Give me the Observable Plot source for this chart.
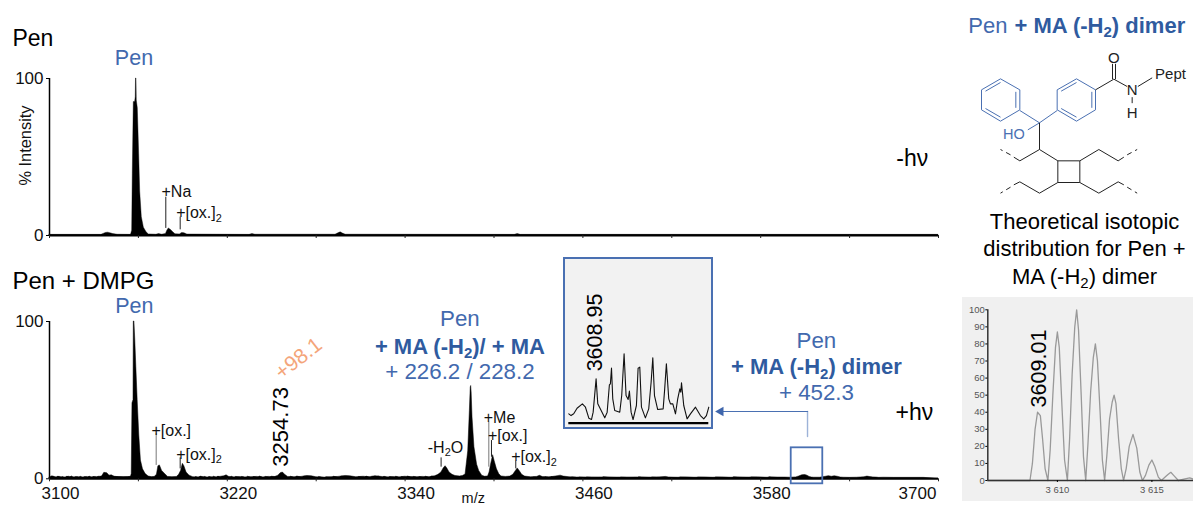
<!DOCTYPE html>
<html>
<head>
<meta charset="utf-8">
<script src="https://cdn.jsdelivr.net/npm/d3@7"></script>
<script src="https://cdn.jsdelivr.net/npm/@observablehq/plot@0.6"></script>
<style>
html,body{margin:0;padding:0;background:#fff}
#stage{position:relative;width:1193px;height:506px;overflow:hidden;background:#fff}
#stage svg{position:absolute;max-width:none}
</style>
</head>
<body>
<div id="stage"></div>
<script>
// ---------- spectra ----------
const topMz = [3100,3135,3136.5,3138,3139.5,3141,3143,3146,3155,3155.8,3156.2,3156.9,3157.8,3158.2,3158.4,3158.7,3158.9,3159.6,3160.5,3161.2,3162.3,3163.7,3165.5,3167,3172,3174,3176,3178.6,3179.5,3180.5,3182,3183.5,3185,3188,3189.5,3191,3193,3235,3237,3239,3293,3295,3296.5,3298,3300,3414,3416,3418,3700];
const topPct = [0.4,0.4,1,1.6,1.8,1.5,0.9,0.5,0.4,3,39,85,85,88,100,100,86,81,52,28,11.7,5,2,0.7,0.5,0.9,0.5,1,3,4.5,3.5,2,0.8,0.7,1.6,1.5,0.6,0.4,0.9,0.5,0.5,1.4,2,1.2,0.5,0.4,0.9,0.4,0.4];

const botMz = [3100,3102,3104,3107,3110,3113,3116,3119,3122,3125,3128,3131,3134,3135.5,3137,3139,3140.5,3142,3144,3147,3150,3153,3155,3155.5,3156,3156.7,3156.9,3157.3,3157.9,3158.6,3159.5,3160.6,3161.7,3163.1,3164.9,3166.9,3169,3171,3172.5,3173.5,3174.5,3176,3178,3180,3183,3186,3187.5,3188.8,3190,3191,3192.5,3194.5,3197,3200,3203,3206,3209,3212,3215,3218,3219.5,3221,3224,3228,3232,3236,3240,3244,3248,3252,3254.5,3256,3257.5,3259,3261,3265,3270,3274,3277,3280,3285,3290,3295,3300,3303,3307,3312,3316,3320,3324,3328,3332,3336,3340,3344,3348,3352,3356,3360,3362.5,3364.5,3366,3367.3,3368.5,3370,3372,3374,3377,3379,3380.8,3382.6,3383.7,3384.3,3384.6,3384.9,3385.5,3386.8,3388.6,3390,3392,3394,3396,3397,3398,3399.4,3400.5,3402,3403.5,3405,3408,3411,3413,3414.8,3416,3417.3,3419,3421,3425,3429,3431,3433,3437,3440,3443,3445,3447,3451,3456,3461,3466,3472,3478,3484,3490,3496,3500,3505,3510,3516,3518,3524,3530,3536,3542,3548,3554,3560,3566,3572,3578,3584,3590,3596,3600,3604,3606,3608,3610,3611.5,3613,3614.5,3616,3620,3624,3626,3628,3630,3632,3634,3636,3640,3645,3650,3652,3654,3656,3658,3660,3663,3670,3680,3690,3700];
const botPct = [0.8,1.6,0.9,1.2,0.7,1.3,0.8,1.1,0.7,1.2,0.8,1.2,0.9,1.5,3.8,3.5,2,2.2,1.3,1,0.8,1,1.3,3,48,50,100,100,88,71,50,27.5,11.6,6,3,1.5,1,1.2,2.5,8,8.5,5,3,1.2,1,1.2,2.5,5,9.5,8,4,2,1,0.9,1.2,0.8,1,0.9,1.2,1.6,2.2,1.3,0.8,1.1,0.8,1,1.2,0.9,1.2,1,2,3.5,4,2.5,1.2,1,1.2,1.8,1.6,1,0.7,1,1.2,1.8,1.6,1,1.3,1,1.7,1.2,0.9,1.1,0.9,1.3,1.1,1,1.2,1,1.5,2.5,4,6.5,8,6.5,4,2.5,1.8,1.5,1.8,2.7,17.5,43,58,59,55,39,20,9,5,2,1.3,1.5,4,9,15,11,6,3,1.5,1.2,1.4,2.5,5,6.6,5,2.5,1.4,1,1.2,1.9,1.1,1,1.2,1.7,2,1.4,1,0.8,0.9,0.7,0.9,0.7,0.8,0.7,0.9,0.7,0.8,0.7,1.2,0.8,0.7,0.8,0.7,0.8,0.7,0.8,0.7,0.7,0.8,0.9,0.7,0.8,0.8,0.7,0.9,1.5,2.2,2.4,2,1.2,0.8,0.7,0.7,1.3,1.7,1.3,1.6,1.3,0.8,0.7,0.6,0.7,1,1.4,1.1,0.9,0.8,0.6,0.7,0.6,0.6,0.6];

// hand-read fuzz on the lower spectrum's baseline
const fuzzMz = [3101,3103,3105,3106,3108,3109,3111,3112,3114,3115,3117,3118,3120,3121,3123,3124,3126,3127,3129,3130,3132,3133,3198,3199,3201,3202,3204,3205,3207,3208,3210,3211,3213,3214,3216,3217,3222,3223,3225,3226,3229,3230,3233,3234,3237,3238,3241,3242,3245,3246,3249,3250,3262,3263,3266,3267,3271,3272,3281,3282,3286,3287,3291,3292,3296,3297,3308,3309,3313,3314,3317,3318,3321,3322,3325,3326,3329,3330,3333,3334,3337,3338,3341,3342,3345,3346,3349,3350,3353,3354,3357,3358,3426,3427,3434,3435,3438,3439,3452,3453,3457,3458,3462,3463,3473,3474,3485,3486,3497,3498,3506,3507,3525,3526,3537,3538,3549,3550,3561,3562,3573,3574,3585,3586,3597,3598];
const fuzzPct = [0.5,1.2,0.6,1.4,0.5,1.1,0.5,1.3,0.6,1.5,0.5,1,0.5,1.3,0.6,1,0.5,1.4,0.6,1.1,0.5,1.3,0.5,1.1,0.5,1.4,0.6,1.2,0.5,1.2,0.5,1.3,0.6,1.4,0.5,1.2,0.5,1.3,0.6,1.2,0.5,1.2,0.6,1.3,0.5,1.1,0.6,1.4,0.5,1.2,0.6,1.3,0.5,1.3,0.5,1.5,0.6,1.4,0.5,1.2,0.5,1,0.6,1.3,0.5,1.5,0.5,1.2,0.6,1.4,0.5,1.2,0.6,1.5,0.5,1.3,0.6,1.1,0.5,1.3,0.6,1.2,0.5,1.4,0.5,1.2,0.6,1.1,0.5,1.3,0.6,1.4,0.4,0.9,0.5,1,0.4,1.1,0.4,0.9,0.4,0.8,0.4,0.9,0.4,1,0.4,0.8,0.4,1,0.4,0.9,0.4,0.9,0.4,0.8,0.4,0.9,0.4,1,0.4,0.9,0.4,1];

const insetMz = [3607,3607.16,3607.35,3607.59,3607.97,3608.19,3608.43,3608.62,3608.74,3608.95,3609.07,3609.31,3609.57,3609.74,3609.9,3609.97,3610.05,3610.14,3610.28,3610.64,3610.78,3610.95,3611.09,3611.24,3611.33,3611.45,3611.59,3611.83,3611.95,3612.07,3612.19,3612.47,3612.71,3612.88,3613,3613.12,3613.35,3613.74,3613.85,3613.97,3614.14,3614.26,3614.43,3614.62,3614.78,3614.93,3615,3615.05,3615.21,3615.45,3615.69,3616.05,3616.4,3616.64,3616.83,3617];
const insetPct = [13.5,11,13.5,21.6,27.9,23,7.2,5.3,15.9,63.9,27.9,18.3,7.7,15.9,55.3,56.7,79.3,35.1,18.3,15.9,39.9,100,39.9,34.1,46.2,15.9,5.3,25.5,79.3,80.8,23.1,7.7,20.7,59.1,94.2,39.9,19.7,20.7,49.5,85.6,35.1,27.9,27.9,13.5,35.1,49.5,44.7,58.2,25.5,6.3,13.5,23.1,11,6.3,11,23.1];

const isoMz = [3606.32,3608.55,3608.68,3608.82,3608.95,3609.1,3609.22,3609.35,3609.5,3609.62,3609.76,3609.9,3610,3610.1,3610.24,3610.38,3610.53,3610.65,3610.78,3610.92,3611.02,3611.12,3611.26,3611.38,3611.5,3611.62,3611.76,3611.9,3612.01,3612.12,3612.26,3612.38,3612.5,3612.62,3612.76,3612.9,3613,3613.1,3613.24,3613.38,3613.5,3613.64,3613.8,3614,3614.2,3614.36,3614.5,3614.66,3614.84,3615,3615.16,3615.34,3615.5,3615.7,3615.85,3616,3616.15,3616.4,3616.75,3617,3617.2];
const isoPct = [0,0,10,30,40,38,24,7,0,18,50,78,87,78,44,12,0,25,62,90,100,88,50,14,0,22,52,72,80,70,40,12,0,15,36,46,50,45,24,7,0,7,20,27,19,5,0,3,9,12,8,2,0,2,3.5,4.8,3,0,0.9,1.5,0.8];

// ---------- axes ----------
const minorTicks = [3100,3160,3220,3280,3340,3400,3460,3520,3580,3640,3700];
const labelTicks = [3100,3220,3340,3460,3580];
const lastTick = [3700];
const pctTicks = [0,100];
const isoYTicks = [0,10,20,30,40,50,60,70,80,90,100];
const isoXTicks = [3610,3615];

// ---------- annotations ----------
const topNotes = ["+Na","+[ox.]₂"];
const topNoteMz = [3175.6,3185.5];
const topNotePct = [28,14.2];
const topLeadMz = [3178.5,3188.2];
const topLeadFrom = [24.4,11.7];
const topLeadTo = [4.5,3.6];

const botNotes = ["+[ox.]","+[ox.]₂","-H₂O","+Me","+[ox.]","+[ox.]₂"];
const botNoteMz = [3168.8,3185.5,3355.3,3393.1,3395.9,3411.6];
const botNotePct = [30.3,15.2,19.7,38.5,27,13.7];
const botLeadMz = [3172,3188.2,3364.3,3396.5,3398.3,3414.7];
const botLeadFrom = [28.6,13.3,13.3,36,24.3,11.2];
const botLeadTo = [8.5,6.3,7.4,7.4,13.7,6.3];

const boldLines = ["+ MA (-H₂)/ + MA","+ MA (-H₂) dimer"];

// ---------- structure (drawing units) ----------
const ringSeg = [
 [150,235,208,268],[208,268,208,328],[208,328,150,362],[150,362,93,328],[93,328,93,268],[93,268,150,235],
 [105,272,150,246],[196,274,196,322],[105,324,150,350],
 [378,235,435,268],[435,268,435,328],[435,328,378,362],[378,362,320,328],[320,328,320,268],[320,268,378,235],
 [332,272,378,246],[424,274,424,322],[332,324,378,350],
 [208,330,267,367],[320,330,267,367],[267,367,232,388]
];
const boneSeg = [
 [267,367,267,447],[267,447,208,481],[208,481,190,470],[267,447,322,481],
 [322,481,388,481],[388,481,388,546],[388,546,322,546],[322,546,322,481],
 [388,481,445,447],[445,447,503,481],[503,481,520,470],
 [322,546,267,578],[267,578,208,544],[208,544,190,553],
 [388,546,445,578],[445,578,503,544],[503,544,520,553],
 [435,268,490,236],[486,236,486,190],[495,236,495,190],[490,236,530,258],[562,258,605,232],[545,290,545,308]
];
const dashSeg = [[180,463,150,447],[180,560,150,578],[530,463,560,447],[530,560,560,578]];

const DARK = "#111", BLUE = "#4269ae", BOLD = "#2f5b9f", FONT = "Liberation Sans";
const stage = document.getElementById("stage");

function place(plot, left, top) {
  plot.style.left = left + "px";
  plot.style.top = top + "px";
  plot.querySelectorAll("text").forEach(t => {
    const s = t.textContent;
    if (!s.includes("₂") || t.querySelector("tspan")) return;
    const parts = s.split("₂");
    t.textContent = parts[0];
    const ns = "http://www.w3.org/2000/svg";
    const sub = document.createElementNS(ns, "tspan");
    sub.setAttribute("font-size", "0.68em");
    sub.setAttribute("dy", "0.3em");
    sub.textContent = "2";
    t.appendChild(sub);
    const rest = document.createElementNS(ns, "tspan");
    rest.setAttribute("dy", "-0.2em");
    rest.textContent = parts[1];
    t.appendChild(rest);
  });
  stage.appendChild(plot);
}

function line(arr, x, y, o) {
  return Plot.text(arr, {x, y, text: arr, lineAnchor: "middle", fontFamily: FONT, ...o});
}

function spectrumAxes(showLabels) {
  const m = [
    Plot.ruleY([0], {stroke: "black", strokeWidth: 2}),
    Plot.ruleX([3100], {y1: 0, y2: 100, stroke: "black", strokeWidth: 1.5}),
    Plot.axisX({ticks: minorTicks, text: null, tickSize: 3, label: null, stroke: "#222"}),
    Plot.axisY({ticks: pctTicks, tickSize: 3, tickPadding: 3, fontSize: 17, fill: DARK, label: null, fontFamily: FONT})
  ];
  if (showLabels) {
    m.push(Plot.axisX({ticks: labelTicks, tickSize: 0, tickPadding: 8, dx: 11, fontSize: 17, fill: DARK, tickFormat: d => String(d), label: null, fontFamily: FONT}));
    m.push(Plot.axisX({ticks: lastTick, tickSize: 0, tickPadding: 8, dx: -21, fontSize: 17, fill: DARK, tickFormat: d => String(d), label: null, fontFamily: FONT}));
  }
  return m;
}

const spectrumScales = {
  width: 960, marginLeft: 49, marginRight: 22,
  x: {domain: [3100, 3700]},
  y: {domain: [0, 100]},
  style: {background: "transparent", fontFamily: FONT}
};

// ---------- top spectrum ----------
place(Plot.plot({
  ...spectrumScales, height: 250, marginTop: 78, marginBottom: 15,
  marks: [
    Plot.areaY(topMz, {x: topMz, y: topPct, fill: "black", stroke: "black", strokeWidth: 0.4}),
    ...spectrumAxes(false),
    Plot.ruleX(topLeadMz, {x: topLeadMz, y1: topLeadFrom, y2: topLeadTo, stroke: "#222", strokeWidth: 1}),
    line(topNotes, topNoteMz, topNotePct, {textAnchor: "start", fontSize: 16, fill: DARK}),
    line(["Pen"], [3075], [125.5], {textAnchor: "start", fontSize: 23, fill: "black"}),
    line(["Pen"], [3157], [113], {fontSize: 21.5, fill: BLUE}),
    line(["% Intensity"], [3083.8], [57.3], {rotate: -90, fontSize: 16.4, fill: DARK}),
    line(["-hν"], [3671.5], [49], {textAnchor: "start", fontSize: 23, fill: "black"})
  ]
}), 0, 0);

// ---------- bottom spectrum ----------
const arrowX = [3611.6, 3611.6, 3553];
const arrowY = [26.9, 42.8, 42.8];
place(Plot.plot({
  ...spectrumScales, height: 251, marginTop: 66, marginBottom: 27.7,
  marks: [
    Plot.areaY(botMz, {x: botMz, y: botPct, fill: "black", stroke: "black", strokeWidth: 0.5}),
    Plot.areaY(fuzzMz, {x: fuzzMz, y: fuzzPct, fill: "black", stroke: "black", strokeWidth: 0.5}),
    ...spectrumAxes(true),
    Plot.ruleX(botLeadMz, {x: botLeadMz, y1: botLeadFrom, y2: botLeadTo, stroke: (d, i) => (i === 0 || i === 3) ? "#777" : "#222", strokeWidth: 1}),
    line(botNotes, botNoteMz, botNotePct, {textAnchor: "start", fontSize: 16, fill: DARK}),
    line(["Pen + DMPG"], [3075], [125.4], {textAnchor: "start", fontSize: 24, fill: "black"}),
    line(["Pen"], [3157.2], [110], {fontSize: 21.5, fill: BLUE}),
    line(["3254.73"], [3256.5], [33], {rotate: -90, fontSize: 22, fill: "black"}),
    line(["+98.1"], [3268], [76.5], {rotate: -38, fontSize: 21, fill: "#f4a57a"}),
    line(["Pen"], [3377], [101.5], {fontSize: 22.3, fill: BLUE}),
    line([boldLines[0]], [3377], [84], {fontSize: 22, fontWeight: "bold", fill: BOLD}),
    line(["+ 226.2 / 228.2"], [3377], [68], {fontSize: 22.3, fill: BLUE}),
    line(["Pen"], [3617.6], [88], {fontSize: 22.3, fill: BLUE}),
    line([boldLines[1]], [3617.6], [71], {fontSize: 22, fontWeight: "bold", fill: BOLD}),
    line(["+ 452.3"], [3617.6], [54.5], {fontSize: 22.3, fill: BLUE}),
    line(["+hν"], [3671], [42], {textAnchor: "start", fontSize: 23, fill: "black"}),
    line(["m/z"], [3386], [-12.5], {fontSize: 14.5, fill: DARK}),
    Plot.rect([0], {x1: 3600.6, x2: 3621.9, y1: -3.2, y2: 19.7, fill: "none", stroke: "#4a70b2", strokeWidth: 1.8}),
    Plot.line(arrowX.slice(0, 2), {x: arrowX.slice(0, 2), y: arrowY.slice(0, 2), stroke: "#9db3d8", strokeWidth: 1.4}),
    Plot.line(arrowX.slice(1), {x: arrowX.slice(1), y: arrowY.slice(1), stroke: "#4a70b2", strokeWidth: 1.2}),
    Plot.dot([0], {x: [arrowX[2]], y: [arrowY[2]], symbol: "triangle", r: 3.6, rotate: -90, fill: "#3f66ac", stroke: "none"})
  ]
}), 0, 255);

// ---------- inset ----------
place(Plot.plot({
  width: 148, height: 170, marginLeft: 4.3, marginRight: 3.7, marginTop: 95.3, marginBottom: 5.3,
  x: {domain: [3607, 3617], axis: null},
  y: {domain: [0, 100], axis: null},
  style: {background: "#f2f2f2", outline: "2px solid #4a70b2", outlineOffset: "-1px", fontFamily: FONT},
  marks: [
    Plot.ruleY([0], {stroke: "black", strokeWidth: 2.2}),
    Plot.line(insetMz, {x: insetMz, y: insetPct, stroke: "#111", strokeWidth: 1.1}),
    line(["3608.95"], [3608.85], [130.7], {rotate: -90, fontSize: 21.5, fill: "black"})
  ]
}), 564, 258);

// ---------- theoretical distribution ----------
place(Plot.plot({
  width: 231, height: 204, marginLeft: 25.3, marginRight: 0, marginTop: 12.3, marginBottom: 21,
  x: {domain: [3606.32, 3617.2]},
  y: {domain: [0, 100]},
  style: {background: "#f0f0f0", fontFamily: FONT},
  marks: [
    Plot.line(isoMz, {x: isoMz, y: isoPct, stroke: "#999", strokeWidth: 1.3, curve: "linear"}),
    Plot.ruleY([0], {stroke: "#333", strokeWidth: 1.5}),
    Plot.ruleX([3606.32], {y1: 0, y2: 100, stroke: "#333", strokeWidth: 1.5}),
    Plot.axisY({ticks: isoYTicks, tickSize: 2, tickPadding: 1, fontSize: 9.5, fill: "#555", label: null, fontFamily: FONT}),
    Plot.axisX({ticks: isoXTicks, tickSize: 2, tickPadding: 4, fontSize: 9.5, fill: "#555", label: null, fontFamily: FONT, tickFormat: d => String(d).replace(/^(\d)/, "$1 ")}),
    line(["3609.01"], [3609.06], [65.6], {rotate: -90, fontSize: 21.5, fill: "black"})
  ]
}), 962, 297);

// ---------- structure and captions ----------
function seg(list, o) {
  return Plot.link(list, {x1: d => d[0], y1: d => d[1], x2: d => d[2], y2: d => d[3], ...o});
}
place(Plot.plot({
  width: 243, height: 290, margin: 0,
  x: {domain: [0, 729], axis: null},
  y: {domain: [870, 0], axis: null},
  style: {background: "transparent", fontFamily: FONT},
  marks: [
    seg(ringSeg, {stroke: "#4a70b2", strokeWidth: 1}),
    seg(boneSeg, {stroke: "#222", strokeWidth: 1}),
    seg(dashSeg, {stroke: "#222", strokeWidth: 1, strokeDasharray: "5,4"}),
    line(["Pen"], [171], [75], {textAnchor: "end", fontSize: 22, fill: BLUE}),
    line(["+ MA (-H₂) dimer"], [192], [75], {textAnchor: "start", fontSize: 22, fontWeight: "bold", fill: BOLD}),
    line(["HO"], [190], [402], {fontSize: 14.5, fill: "#4a70b2"}),
    line(["O"], [490], [172], {fontSize: 15, fill: "#222"}),
    line(["N"], [545], [270], {fontSize: 15, fill: "#222"}),
    line(["H"], [545], [338], {fontSize: 15, fill: "#222"}),
    line(["Pept"], [660], [222], {fontSize: 15, fill: "#222"}),
    line(["Theoretical isotopic"], [402], [663], {fontSize: 22, fill: "black"}),
    line(["distribution for Pen +"], [402], [745], {fontSize: 22, fill: "black"}),
    line(["MA (-H₂) dimer"], [402], [828], {fontSize: 22, fill: "black"})
  ]
}), 950, 0);
</script>
</body>
</html>
